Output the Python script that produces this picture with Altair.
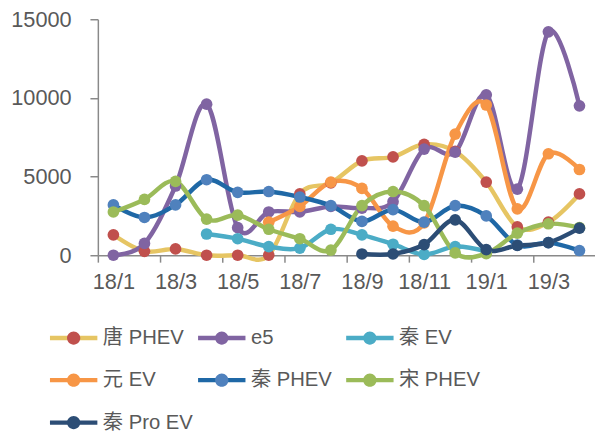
import altair as alt
import pandas as pd

months = ["18/1", "18/2", "18/3", "18/4", "18/5", "18/6", "18/7", "18/8",
          "18/9", "18/10", "18/11", "18/12", "19/1", "19/2", "19/3", "19/4"]
series = ["唐 PHEV", "e5", "秦 EV", "元 EV", "秦 PHEV", "宋 PHEV", "秦 Pro EV"]

tang_phev = [1300, 250, 400, 0, 0, 0, 3900, 4600, 6000, 6250, 7050, 6600, 4650, 1800, 2100, 3900]
e5 = [0, 750, 4400, 9600, 1750, 2750, 2750, 3100, 3000, 3400, 6750, 6550, 10200, 4200, 14200, 9500]
qin_ev = [None, None, None, 1350, 1050, 550, 450, 1650, 1300, 700, 50, 550, 250, None, None, None]
yuan_ev = [None, None, None, None, None, 2100, 3100, 4650, 4250, 1850, 2050, 7700, 9550, 2950, 6450, 5450]
qin_phev = [3200, 2400, 3200, 4800, 4000, 4050, 3700, 3150, 2150, 2900, 2100, 3150, 2500, 650, 800, 300]
song_phev = [2750, 3550, 4700, 2300, 2550, 1650, 1050, 330, 3150, 4050, 3150, 150, 100, 1400, 2000, 1750]
qin_pro_ev = [None, None, None, None, None, None, None, None, 80, 80, 680, 2250, 360, 620, 800, 1720]

values = [tang_phev, e5, qin_ev, yuan_ev, qin_phev, song_phev, qin_pro_ev]
line_colors = ["#E6C563", "#8064A2", "#4BACC6", "#F79646", "#1F68A6", "#9BBB59", "#2C4D75"]
marker_colors = ["#C0504D", "#8064A2", "#4BACC6", "#F79646", "#4F81BD", "#9BBB59", "#2C4D75"]

rows = []
for name, vals in zip(series, values):
    for i, v in enumerate(vals):
        if v is not None:
            rows.append({"i": i, "v": v, "s_l": name, "s_p": name})
df = pd.DataFrame(rows)

FONT = "Liberation Sans, Arial, Noto Sans CJK SC"
W = 503.5
H = 239
band = W / len(months)

month_js = "[" + ",".join("'%s'" % m for m in months) + "]"
x_enc = alt.X(
    "i:Q",
    scale=alt.Scale(domain=[-0.5, len(months) - 0.5], nice=False, zero=False),
    axis=alt.Axis(
        values=[k - 0.5 for k in range(0, len(months) + 1, 2)],
        labelExpr=f"{month_js}[datum.value + 0.5] || ''",
        labelOffset=band / 2,
        labelFlush=False,
        labelOverlap=False,
        grid=False,
        title=None,
        domainColor="#898989",
        domainWidth=1.5,
        tickColor="#898989",
        tickWidth=1.5,
        tickSize=7,
        labelPadding=10,
        labelFont=FONT,
        labelFontSize=22,
        labelColor="#595959",
    ),
)
y_enc = alt.Y(
    "v:Q",
    scale=alt.Scale(domain=[0, 15000], nice=False),
    axis=alt.Axis(
        values=[0, 5000, 10000, 15000],
        format="d",
        grid=False,
        title=None,
        domainColor="#898989",
        domainWidth=1.5,
        tickColor="#898989",
        tickWidth=1.5,
        tickSize=8,
        labelPadding=19,
        labelFont=FONT,
        labelFontSize=22,
        labelColor="#595959",
    ),
)

LINE_PATH = "M-1,0L1,0M0,-0.28L0,-0.28M0,0.28L0,0.28"
CIRC_PATH = "M-1,0L1,0M0.28,0A0.28,0.28,0,1,1,-0.28,0A0.28,0.28,0,1,1,0.28,0Z"

common_legend = dict(
    orient="none",
    direction="horizontal",
    legendX=-51,
    legendY=296,
    columns=3,
    gridAlign="all",
    columnPadding=-5,
    rowPadding=0,
    title=None,
    labelFont=FONT,
    labelFontSize=20.5,
    labelColor="#595959",
    labelOffset=3,
    symbolSize=2304,
    symbolStrokeWidth=4.5,
    symbolOpacity=1,
)

lines = alt.Chart(df).mark_line(strokeWidth=4.5, interpolate="cardinal", tension=0).encode(
    x=x_enc,
    y=y_enc,
    color=alt.Color(
        "s_l:N",
        sort=series,
        scale=alt.Scale(range=line_colors),
        legend=alt.Legend(symbolType=LINE_PATH, **common_legend),
    ),
)

points = alt.Chart(df).mark_circle(size=140, opacity=1).encode(
    x=x_enc,
    y=y_enc,
    fill=alt.Fill(
        "s_p:N",
        sort=series,
        scale=alt.Scale(range=marker_colors),
        legend=alt.Legend(symbolType=CIRC_PATH, symbolStrokeColor="rgba(0,0,0,0)",
                          labelOpacity=0, **common_legend),
    ),
)

chart = alt.layer(lines, points).properties(
    width=W,
    height=H,
    autosize=alt.AutoSizeParams(type="none"),
    padding={"left": 91, "top": 8.7, "right": 0, "bottom": 176},
).configure_view(stroke=None)

chart.save("out.html", embed_options={"renderer": "svg", "actions": False})
